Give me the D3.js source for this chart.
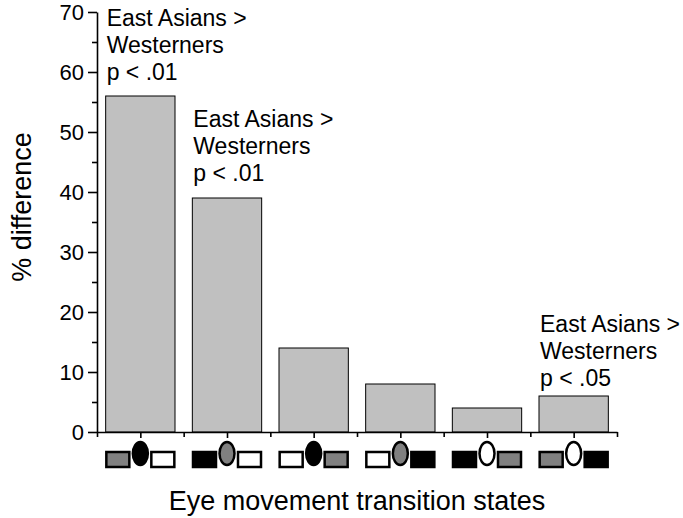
<!DOCTYPE html>
<html>
<head>
<meta charset="utf-8">
<script src="https://cdn.jsdelivr.net/npm/d3@7"></script>
<style>
  body { margin: 0; background: #fff; }
  svg { display: block; font-family: "Liberation Sans", Arial, sans-serif; }
</style>
</head>
<body>
<script>
var svgWidth = 683;
var svgHeight = 518;

// transition states: left rect, ellipse, right rect
var states = ["S1", "S2", "S3", "S4", "S5", "S6"];
var differences = [56, 39, 14, 8, 4, 6];
var leftBox = ["gray", "black", "white", "white", "black", "gray"];
var eyeShape = ["black", "gray", "black", "gray", "white", "white"];
var rightBox = ["white", "white", "gray", "black", "gray", "black"];

var yTicks = [0, 10, 20, 30, 40, 50, 60, 70];
var yMinorTicks = [5, 15, 25, 35, 45, 55, 65];

// annotations: state, first-line level (in % units), lines
var noteStates = ["S1", "S2", "S6"];
var noteLevels = [67.6, 50.8, 16.7];
var noteLines = [
  ["East Asians >", "Westerners", "p < .01"],
  ["East Asians >", "Westerners", "p < .01"],
  ["East Asians >", "Westerners", "p < .05"]
];

var shade = {gray: "#808080", black: "#000", white: "#fff"};

var svg = d3.select("body").append("svg").attr("width", svgWidth).attr("height", svgHeight);

var xScale = d3.scaleBand().domain(states).range([97, 617]).paddingInner(0.2).paddingOuter(0.1);
var yScale = d3.scaleLinear().domain([0, 70]).range([432, 12]);

// bars
svg.selectAll(".bar")
    .data(states)
  .enter().append("rect")
    .attr("class", "bar")
    .attr("x", function(d) { return xScale(d); })
    .attr("y", function(d, i) { return yScale(differences[i]); })
    .attr("width", xScale.bandwidth())
    .attr("height", function(d, i) { return yScale(0) - yScale(differences[i]); })
    .style("fill", "#c0c0c0")
    .style("stroke", "#000")
    .style("stroke-width", 1);

// y axis
var yAxis = svg.append("g")
    .attr("transform", "translate(97,0)")
    .call(d3.axisLeft(yScale).tickValues(yTicks).tickSize(9).tickSizeOuter(0).tickPadding(4));
yAxis.selectAll("text").style("font-size", "22px").style("fill", "#000").attr("dy", "0.36em");

svg.append("g")
    .attr("transform", "translate(97,0)")
    .call(d3.axisLeft(yScale).tickValues(yMinorTicks).tickSize(5).tickFormat(""))
    .select(".domain").remove();

// x axis
var xCenter = d3.scalePoint().domain(states).range([xScale(states[0]) + xScale.bandwidth() / 2,
    xScale(states[states.length - 1]) + xScale.bandwidth() / 2]);
svg.append("g")
    .attr("transform", "translate(0,432)")
    .call(d3.axisBottom(xCenter).tickSize(6).tickSizeOuter(0).tickFormat(""))
    .select(".domain").remove();

var bounds = states.map(function(d) { return xScale(d) - xScale.step() * 0.1; })
    .concat([617]);
var xEdge = d3.scaleLinear().domain([97, 617]).range([97, 617]);
svg.append("g")
    .attr("transform", "translate(0,432)")
    .call(d3.axisBottom(xEdge).tickValues(bounds).tickSize(5).tickSizeOuter(0).tickFormat(""));

svg.selectAll(".domain, .tick line").style("stroke", "#000").style("stroke-width", 1.6);

// transition-state icons under the axis
var icons = svg.selectAll(".icon")
    .data(states)
  .enter().append("g")
    .attr("class", "icon")
    .attr("transform", function(d) { return "translate(" + (xScale(d) + xScale.bandwidth() / 2) + ",0)"; });

icons.append("rect")
    .attr("x", -34).attr("y", 452).attr("width", 23).attr("height", 15)
    .style("fill", function(d, i) { return shade[leftBox[i]]; })
    .style("stroke", "#000").style("stroke-width", 2.5);

icons.append("rect")
    .attr("x", 11).attr("y", 452).attr("width", 23).attr("height", 15)
    .style("fill", function(d, i) { return shade[rightBox[i]]; })
    .style("stroke", "#000").style("stroke-width", 2.5);

icons.append("ellipse")
    .attr("cx", 0).attr("cy", 453.5).attr("rx", 7.5).attr("ry", 11.5)
    .style("fill", function(d, i) { return shade[eyeShape[i]]; })
    .style("stroke", "#000").style("stroke-width", 2.5);

// significance notes
noteStates.forEach(function(s, k) {
  var t = svg.append("text")
      .attr("x", xScale(s) + 1)
      .attr("y", yScale(noteLevels[k]))
      .style("font-size", "23px")
      .style("fill", "#000");
  noteLines[k].forEach(function(line, j) {
    t.append("tspan")
        .attr("x", xScale(s) + 1)
        .attr("dy", j === 0 ? 0 : 27)
        .text(line);
  });
});

// axis titles
svg.append("text")
    .attr("text-anchor", "middle")
    .attr("transform", "translate(31,207)rotate(-90)")
    .style("font-size", "27px")
    .text("% difference");

svg.append("text")
    .attr("text-anchor", "middle")
    .attr("x", 357)
    .attr("y", 510)
    .style("font-size", "27px")
    .text("Eye movement transition states");
</script>
</body>
</html>
